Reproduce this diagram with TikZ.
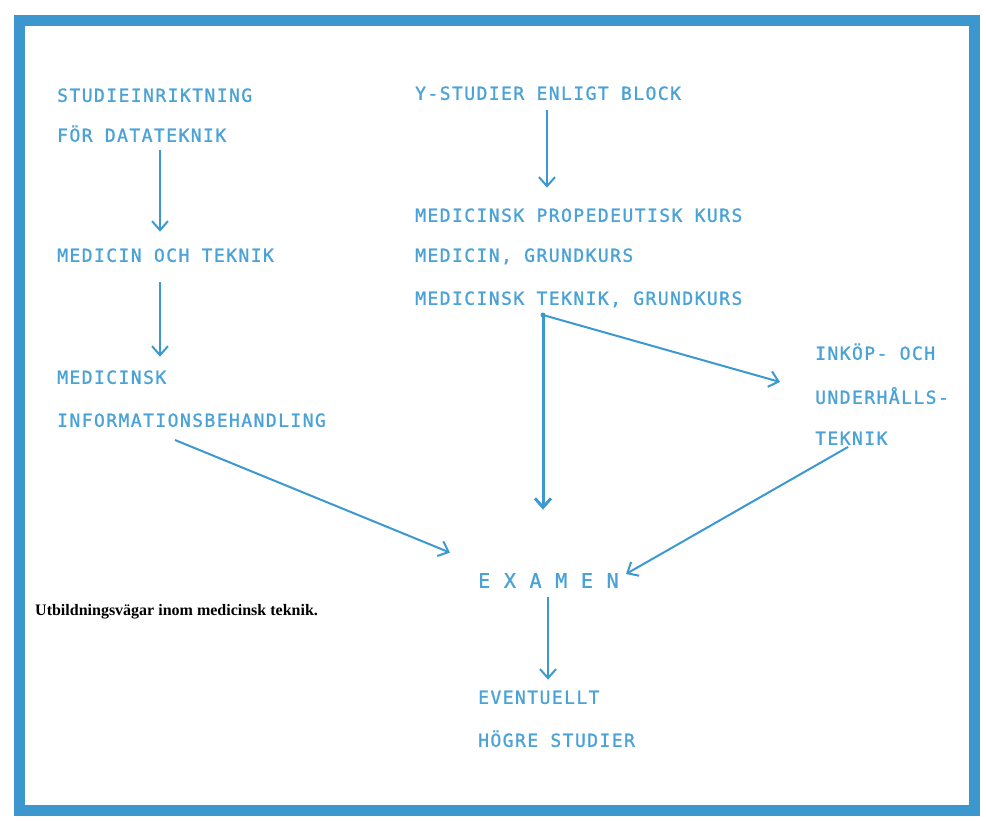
\documentclass[tikz,border=0pt]{standalone}
\usepackage{fontspec}
\usepackage{xcolor}
\usepackage{tikz}
\usetikzlibrary{arrows.meta}
\newfontfamily\plotfont[LetterSpace=8,FakeBold=1.2]{DejaVu Sans Mono}
\newfontfamily\capfont{Liberation Serif}
\definecolor{frameColor}{HTML}{3D97CF}
\definecolor{lineColor}{HTML}{3C98D0}
\definecolor{textColor}{HTML}{4AA2D6}

\begin{document}
\begin{tikzpicture}[x=1pt, y=-1pt,
    lbl/.style={anchor=south west, inner sep=0pt, text height=13pt, text depth=0pt,
        font=\plotfont\fontsize{18}{18}\selectfont, text=textColor},
    arr/.style={lineColor, line width=2pt, -{Straight Barb[length=9pt,width=16pt]}}]
    \useasboundingbox (0,0) rectangle (986,820);
    \draw[line width=11pt, frameColor] (19,20) rectangle (974,810);
    % left column
    \node[lbl] (studie)  at (57,102) {STUDIEINRIKTNING};
    \node[lbl] (datatek) at (57,142) {FÖR DATATEKNIK};
    \node[lbl] (medtek)  at (57,262) {MEDICIN OCH TEKNIK};
    \node[lbl] (medinf)  at (57,384) {MEDICINSK};
    \node[lbl] (medinfb) at (57,427) {INFORMATIONSBEHANDLING};
    % middle column
    \node[lbl] (yblock)   at (415,100) {Y-STUDIER ENLIGT BLOCK};
    \node[lbl] (propkurs) at (415,222) {MEDICINSK PROPEDEUTISK KURS};
    \node[lbl] (medgrund) at (415,262) {MEDICIN, GRUNDKURS};
    \node[lbl] (mtgrund)  at (415,305) {MEDICINSK TEKNIK, GRUNDKURS};
    % right column
    \node[lbl] (inkop)  at (815,360) {INKÖP- OCH};
    \node[lbl] (underh) at (815,404) {UNDERHÅLLS-};
    \node[lbl] (teknik) at (815,445) {TEKNIK};
    % bottom
    \node[lbl, text height=17pt, font=\plotfont\fontsize{20}{20}\selectfont] (examen) at (478,588) {E X A M E N};
    \node[lbl] (event) at (478,704) {EVENTUELLT};
    \node[lbl] (hogre) at (478,747) {HÖGRE STUDIER};
    \node[anchor=south west, inner sep=0pt, font=\capfont\bfseries\fontsize{16}{16}\selectfont]
        (caption) at (35,619) {Utbildningsvägar inom medicinsk teknik.};

    \draw[arr] ([xshift=103pt,yshift=-8pt]datatek.south west) -- ([xshift=103pt,yshift=17pt]medtek.north west);
    \draw[arr] ([xshift=103pt,yshift=-20pt]medtek.south west) -- ([xshift=103pt,yshift=14pt]medinf.north west);
    \draw[arr] ([xshift=118pt,yshift=-13pt]medinfb.south west) -- ([xshift=-28pt,yshift=18pt]examen.north west);
    \draw[arr] ([xshift=132pt,yshift=-10pt]yblock.south west) -- ([xshift=132pt,yshift=21pt]propkurs.north west);
    \coordinate (split) at ([xshift=128pt,yshift=-10pt]mtgrund.south west);
    \fill[lineColor] (split) circle (2.5pt);
    \draw[arr, line width=3pt] (split) -- ([xshift=65pt,yshift=61pt]examen.north west);
    \draw[arr] (split) -- ([xshift=-35pt,yshift=-22pt]inkop.south west);
    \draw[arr] ([xshift=33pt,yshift=-2pt]teknik.south west) -- ([xshift=148pt,yshift=14pt]examen.south west);
    \draw[arr] ([xshift=70pt,yshift=-9pt]examen.south west) -- ([xshift=70pt,yshift=11pt]event.north west);
\end{tikzpicture}
\end{document}
